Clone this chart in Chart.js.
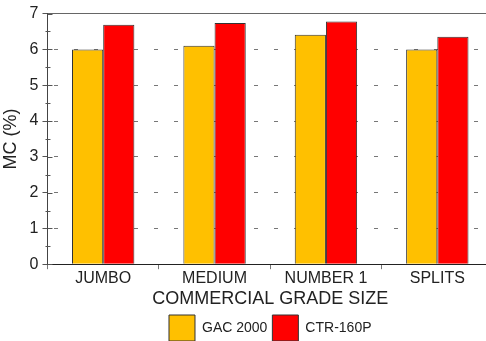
<!DOCTYPE html>
<html>
<head>
<meta charset="utf-8">
<script src="https://cdn.jsdelivr.net/npm/chart.js@4/dist/chart.umd.min.js"></script>
<style>
  html, body { margin: 0; padding: 0; background: #fff; overflow: hidden; }
  #wrap { width: 494px; height: 351px; }
</style>
</head>
<body>
<div id="wrap"><canvas id="chart" width="494" height="351"></canvas></div>
<script>
const categories = ['JUMBO', 'MEDIUM', 'NUMBER 1', 'SPLITS']
const gac2000 = [6.0, 6.1, 6.41, 6.0]
const ctr160p = [6.69, 6.74, 6.78, 6.35]
const yMin = 0
const yMax = 7

const font = 'Arial, "Liberation Sans", sans-serif'

// short marks at the half steps, and the part of the major ticks inside the axis
const minorTicks = {
  id: 'minorTicks',
  afterDraw(chart) {
    const y = chart.scales.y
    const ctx = chart.ctx
    const x0 = chart.chartArea.left
    ctx.save()
    ctx.strokeStyle = '#555'
    ctx.lineWidth = 1
    for (let v = yMin; v <= yMax; v += 0.5) {
      const py = Math.round(y.getPixelForValue(v)) + 0.5
      ctx.beginPath()
      if (v % 1 === 0) {
        ctx.moveTo(x0, py)
        ctx.lineTo(x0 + 5, py)
      } else {
        ctx.moveTo(x0 - 2, py)
        ctx.lineTo(x0 + 3, py)
      }
      ctx.stroke()
    }
    ctx.restore()
  }
}

new Chart(document.getElementById('chart'), {
  type: 'bar',
  data: {
    labels: categories,
    datasets: [
      {
        label: 'GAC 2000',
        data: gac2000,
        backgroundColor: '#FFC000',
        borderColor: '#333',
        borderWidth: 1
      },
      {
        label: 'CTR-160P',
        data: ctr160p,
        backgroundColor: '#FF0000',
        borderColor: '#333',
        borderWidth: 1
      }
    ]
  },
  options: {
    responsive: false,
    animation: false,
    layout: { padding: { top: 2, right: 1, left: 0, bottom: 0 } },
    datasets: {
      bar: { barPercentage: 1, categoryPercentage: 0.56 }
    },
    plugins: {
      tooltip: { enabled: false },
      legend: {
        position: 'bottom',
        fullSize: false,
        labels: {
          font: { family: font, size: 14 },
          color: '#222',
          boxWidth: 26,
          boxHeight: 26,
          padding: 5
        }
      }
    },
    scales: {
      x: {
        grid: {
          display: true,
          offset: true,
          drawOnChartArea: false,
          drawTicks: true,
          tickLength: 5,
          tickColor: '#777'
        },
        border: { display: true, color: '#222', width: 1 },
        ticks: {
          font: { family: font, size: 16 },
          color: '#222',
          padding: 0
        },
        title: {
          display: true,
          text: 'COMMERCIAL GRADE SIZE',
          font: { family: font, size: 18 },
          color: '#222',
          padding: { top: 0, bottom: 0 }
        }
      },
      y: {
        min: yMin,
        max: yMax,
        ticks: {
          stepSize: 1,
          font: { family: font, size: 16 },
          color: '#222',
          padding: 4
        },
        grid: {
          display: true,
          drawOnChartArea: true,
          color: (c) => c.tick && c.tick.value === yMax ? '#666' : '#777',
          lineWidth: 1,
          tickLength: 5,
          tickColor: '#555'
        },
        border: {
          display: true,
          color: '#444',
          dash: (c) => c.tick && (c.tick.value === yMax || c.tick.value === yMin) ? [] : [4, 16],
          dashOffset: -6
        },
        title: {
          display: true,
          text: 'MC (%)',
          font: { family: font, size: 18 },
          color: '#222',
          padding: { top: 0, bottom: 4 }
        }
      }
    }
  },
  plugins: [minorTicks]
})
</script>
</body>
</html>
